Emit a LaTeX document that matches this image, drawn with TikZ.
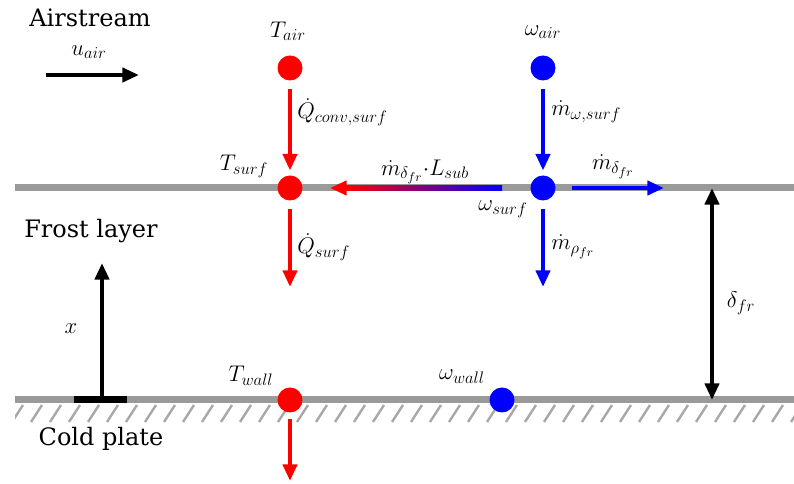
\RequirePackage{fix-cm}
\documentclass[tikz,border=0pt]{standalone}
\usepackage{fontspec}
\setmainfont{DejaVu Serif}
\DeclareMathSizes{17}{17}{12.5}{9.5}
\usetikzlibrary{arrows.meta,calc}
\definecolor{plategray}{HTML}{9A9A9A}
\definecolor{hatchgray}{HTML}{A8A8A8}
\definecolor{pred}{HTML}{FF0000}
\definecolor{pblue}{HTML}{0000FF}
\begin{document}
\begin{tikzpicture}[x=0.75pt,y=-0.75pt,
  arr/.style={line width=3.4pt,-{Triangle[width=10.5pt,length=12.5pt]}},
  darr/.style={line width=3.4pt,{Triangle[width=10.5pt,length=12.5pt]}-{Triangle[width=10.5pt,length=12.5pt]}},
  dotnode/.style={circle,inner sep=0pt,minimum size=18.75pt},
  rdot/.style={dotnode,fill=pred},
  bdot/.style={dotnode,fill=pblue},
  plate/.style={plategray,line width=5.25pt},
  hatch/.style={hatchgray,line width=1.8pt},
  lab/.style={font=\fontsize{17}{20}\selectfont,inner sep=0pt},
  txt/.style={font=\fontsize{18}{22}\selectfont,inner sep=0pt}]
\useasboundingbox (0,0) rectangle (794,484);

% plates
\coordinate (topL) at (15,188);
\coordinate (topR) at (794,188);
\coordinate (botL) at (15,400);
\coordinate (botR) at (794,400);
\draw[plate] (topL) -- (topR);
\draw[plate] (botL) -- (botR);
\begin{scope}
\clip (15,403) rectangle (794,424);
\foreach \i in {0,...,42} \draw[hatch] (12+19*\i,422) -- ++(11,-17);
\end{scope}

% dots
\node[rdot] (Tair) at (290,68) {};
\node[rdot] (Tsurf) at (290,188) {};
\node[rdot] (Twall) at (290,400) {};
\node[bdot] (wair) at (543,68) {};
\node[bdot] (wsurf) at (543,188) {};
\node[bdot] (wwall) at (502,400) {};

% free ends
\coordinate (qsE) at (290,287);
\coordinate (qwE) at (290,481);
\coordinate (mrE) at (543,287);
\coordinate (mdS) at (572,188);
\coordinate (mdE) at (664,188);
\coordinate (gR) at (502,188);
\coordinate (gL) at (330,188);
\coordinate (dT) at (712,188);
\coordinate (dB) at (712,400);
\coordinate (xB) at (102,400);
\coordinate (xT) at (102,263);
\coordinate (tL) at (74,400);
\coordinate (tR) at (127,400);
\coordinate (uS) at (46,75);
\coordinate (uE) at (139,75);

% red arrows
\draw[arr,pred,shorten <=6pt,shorten >=3.5pt] (Tair) -- (Tsurf);
\draw[arr,pred,shorten <=6pt] (Tsurf) -- (qsE);
\draw[arr,pred,shorten <=5pt] (Twall) -- (qwE);
% blue arrows
\draw[arr,pblue,shorten <=6pt,shorten >=3.5pt] (wair) -- (wsurf);
\draw[arr,pblue,shorten <=6pt] (wsurf) -- (mrE);
\draw[arr,pblue] (mdS) -- (mdE);
% gradient arrow
\shade[left color=pred,right color=pblue] ($(gL)+(15,-2.3)$) rectangle ($(gR)+(0,2.3)$);
\draw[arr,pred] ($(gL)+(17,0)$) -- (gL);
% black arrows
\draw[darr,black] (dT) -- (dB);
\draw[arr,black] (xB) -- (xT);
\draw[black,line width=5.25pt] (tL) -- (tR);
\draw[arr,black] (uS) -- (uE);

% labels
\node[txt] (lAir) at (90,18) {Airstream};
\node[txt] (lFrost) at (91,231) {Frost layer};
\node[txt] (lCold) at (101,439) {Cold plate};
\node[lab] (luair) at (89,52) {$u_{air}$};
\node[lab] (lTair) at (288,31) {$T_{air}$};
\node[lab,anchor=west] (lQc) at (297,112) {$\dot{Q}_{conv,surf}$};
\node[lab] (lTsurf) at (244,166) {$T_{surf}$};
\node[lab] (lwair) at (543,32) {$\omega_{air}$};
\node[lab,anchor=west] (lmw) at (551,112) {$\dot{m}_{\omega,surf}$};
\node[lab] (lmL) at (425,172) {$\dot{m}_{\delta_{fr}}{\cdot}L_{sub}$};
\node[lab] (lmd) at (613,167) {$\dot{m}_{\delta_{fr}}$};
\node[lab] (lwsurf) at (503,209) {$\omega_{surf}$};
\node[lab,anchor=west] (lQs) at (297,247) {$\dot{Q}_{surf}$};
\node[lab,anchor=west] (lmr) at (551,247) {$\dot{m}_{\rho_{fr}}$};
\node[lab] (lx) at (71,329) {$x$};
\node[lab] (ld) at (741,303) {$\delta_{fr}$};
\node[lab] (lTw) at (251,376) {$T_{wall}$};
\node[lab] (lww) at (462,377) {$\omega_{wall}$};
\end{tikzpicture}
\end{document}
